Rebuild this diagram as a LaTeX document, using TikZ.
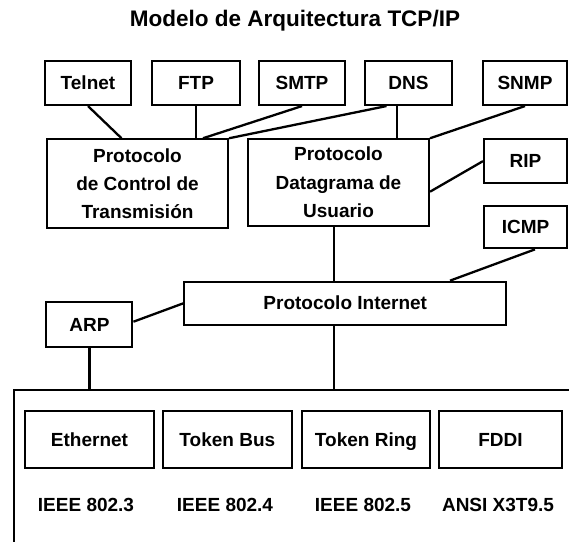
\documentclass[tikz,border=0pt]{standalone}
\usepackage{fontspec}
\setmainfont{Liberation Sans}
\begin{document}
\begin{tikzpicture}[x=1pt,y=-1pt,
  lbl/.style={font=\fontsize{19}{28.3}\selectfont\bfseries},
  blk/.style={draw, line width=2.1pt, align=center, inner sep=0pt, lbl},
  one/.style={text height=13.6pt, text depth=0.6pt},
  link/.style={line width=2.3pt},
  std/.style={lbl, inner sep=0pt, one}]
\useasboundingbox (0,0) rectangle (569,541);
\clip (0,0) rectangle (569,541);

% title
\node[font=\fontsize{22.5}{26}\selectfont\bfseries] (title) at (295,21) {Modelo de Arquitectura TCP/IP};

% application protocols
\node[blk, one, minimum width=86pt, minimum height=44.3pt] (telnet) at (88,82.85) {Telnet};
\node[blk, one, minimum width=88pt, minimum height=44.3pt] (ftp) at (196,82.85) {FTP};
\node[blk, one, minimum width=86pt, minimum height=44.3pt] (smtp) at (302,82.85) {SMTP};
\node[blk, one, minimum width=87pt, minimum height=44.3pt] (dns) at (408.5,82.85) {DNS};
\node[blk, one, minimum width=84pt, minimum height=44.3pt] (snmp) at (525,82.85) {SNMP};

% transport protocols
\node[blk, minimum width=181pt, minimum height=89pt] (tcp) at (137.5,183.8) {Protocolo\\de Control de\\Transmisión};
\node[blk, minimum width=181pt, minimum height=86.4pt] (udp) at (338.5,182.5) {Protocolo\\Datagrama de\\Usuario};
\node[blk, one, minimum width=83pt, minimum height=43.7pt] (rip) at (525.5,161.15) {RIP};
\node[blk, one, minimum width=83pt, minimum height=42.3pt] (icmp) at (525.5,227.15) {ICMP};

% internet layer
\node[blk, one, minimum width=322pt, minimum height=43.3pt] (ip) at (345.25,303.35) {Protocolo Internet};
\node[blk, one, minimum width=86pt, minimum height=45.6pt] (arp) at (89.4,324.5) {ARP};

% network access frame (runs past the page edge)
\node[draw, line width=2.1pt, minimum width=600pt, minimum height=200pt, inner sep=0pt] (lan) at (314,490) {};

\node[blk, one, minimum width=129pt, minimum height=57.6pt] (eth) at (89.5,439.5) {Ethernet};
\node[blk, one, minimum width=129.3pt, minimum height=57.6pt] (tbus) at (227.35,439.5) {Token Bus};
\node[blk, one, minimum width=128pt, minimum height=57.6pt] (tring) at (366,439.5) {Token Ring};
\node[blk, one, minimum width=123pt, minimum height=57.6pt] (fddi) at (500.5,439.5) {FDDI};

\node[std] (s1) at (86,505) {IEEE 802.3};
\node[std] (s2) at (225,505) {IEEE 802.4};
\node[std] (s3) at (363,505) {IEEE 802.5};
\node[std] (s4) at (498,505) {ANSI X3T9.5};

% connectors
\draw[link] (telnet.south) -- ([xshift=-16pt]tcp.north);
\draw[link] (ftp.south) -- (ftp.south |- tcp.north);
\draw[link] (smtp.south) -- ([xshift=65.5pt]tcp.north);
\draw[link] ([xshift=-22pt]dns.south) -- (tcp.north east);
\draw[link] ([xshift=-11.5pt]dns.south) -- ([xshift=-11.5pt]dns.south |- udp.north);
\draw[link] (snmp.south) -- (udp.north east);
\draw[link] (rip.west) -- ([yshift=-9.2pt]udp.east);
\draw[link] ([xshift=-4.7pt]udp.south) -- ([xshift=-4.7pt]udp.south |- ip.north);
\draw[link] ([xshift=9.5pt]icmp.south) -- ([xshift=104.75pt]ip.north);
\draw[link] ([yshift=2.8pt]arp.east) -- (ip.west);
\draw[link] (arp.south) -- (arp.south |- lan.north);
\draw[link] ([xshift=-11.45pt]ip.south) -- ([xshift=-11.45pt]ip.south |- lan.north);
\end{tikzpicture}
\end{document}
